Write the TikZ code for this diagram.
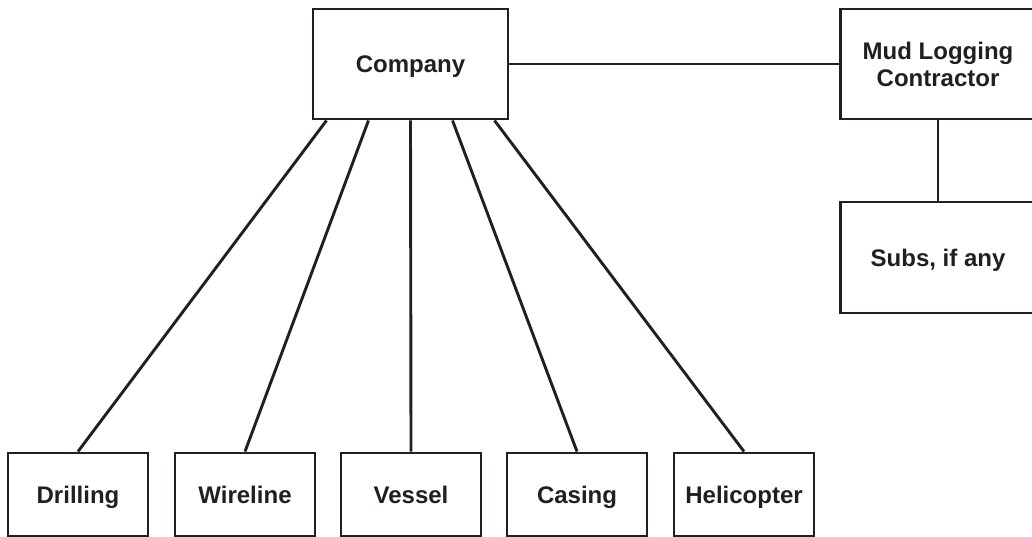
\documentclass[tikz,border=0pt]{standalone}
\usepackage{fontspec}
\setmainfont{Liberation Sans}
\usetikzlibrary{calc}
\definecolor{ink}{HTML}{231F20}
\begin{document}
\begin{tikzpicture}[x=1pt,y=-1pt,
  box/.style={draw=ink, line width=2.9pt, fill=white, text=ink, align=center,
    inner sep=0pt, font=\fontsize{24}{27}\selectfont\bfseries},
  oneline/.style={text height=17.2pt, text depth=0pt},
  bigbox/.style={box, minimum width=195pt, minimum height=110pt},
  smallbox/.style={box, oneline, minimum width=140pt, minimum height=83pt},
  link/.style={draw=ink, line width=2.9pt}]
\useasboundingbox (0,0) rectangle (1032,537);
\node[bigbox, oneline] (company) at (410.5,64) {Company};
\node[bigbox] (mud) at (938,64) {Mud Logging\\Contractor};
\node[bigbox, oneline, minimum height=111pt] (subs) at (938,257.5) {Subs, if any};
\node[smallbox] (drilling) at (78,494.5) {Drilling};
\node[smallbox] (wireline) at (245,494.5) {Wireline};
\node[smallbox] (vessel) at (411,494.5) {Vessel};
\node[smallbox] (casing) at (577,494.5) {Casing};
\node[smallbox] (heli) at (744,494.5) {Helicopter};
\draw[link] (company.east) -- (mud.west);
\draw[link] (mud.south) -- (subs.north);
\draw[link] ([xshift=-84pt]company.south) -- (drilling.north);
\draw[link] ([xshift=-42pt]company.south) -- (wireline.north);
\draw[link] (company.south) -- (vessel.north);
\draw[link] ([xshift=42pt]company.south) -- (casing.north);
\draw[link] ([xshift=84pt]company.south) -- (heli.north);
\end{tikzpicture}
\end{document}
